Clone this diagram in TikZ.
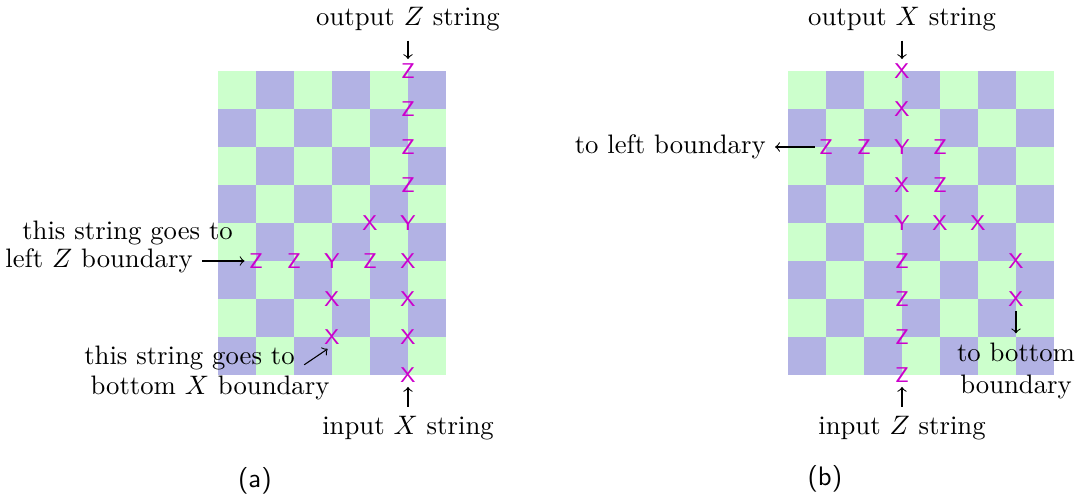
\documentclass[tikz,border=0pt]{standalone}
\usepackage{amsmath,amssymb}
\usepackage{tikz}
\definecolor{cellGreen}{RGB}{204,255,204}
\definecolor{cellBlue}{RGB}{178,178,228}
\definecolor{pauliMag}{RGB}{204,0,204}

\begin{document}
\begin{tikzpicture}[x=0.5cm,y=0.5cm,
  pauli/.style={text=pauliMag,font=\footnotesize\sffamily,inner sep=1.5pt},
  note/.style={font=\normalsize}]
  \useasboundingbox (-5.737,1.868) rectangle (22.71,-11.21);

  % (a) 6x8 board
  \foreach \i in {0,...,5}
    \foreach \j in {0,...,7} {
      \ifodd\numexpr\i+\j\relax\def\cellcol{cellBlue}\else\def\cellcol{cellGreen}\fi
      \fill[fill=\cellcol] (\i,-\j) rectangle (\i+1,-\j-1);
    }
  \foreach \r/\t in {0/Z,1/Z,2/Z,3/Z,4/Y,5/X,6/X,7/X,8/X}
    \node[pauli] (a5\r) at (5,-\r) {\t};
  \node[pauli] (a44) at (4,-4) {X};
  \node[pauli] (a15) at (1,-5) {Z};
  \node[pauli] (a25) at (2,-5) {Z};
  \node[pauli] (a35) at (3,-5) {Y};
  \node[pauli] (a45) at (4,-5) {Z};
  \node[pauli] (a36) at (3,-6) {X};
  \node[pauli] (a37) at (3,-7) {X};

  \node[note] (aout) at (5,1.36) {output $Z$ string};
  \draw[->] (aout) -- (a50);
  \node[note] (ain) at (5,-9.39) {input $X$ string};
  \draw[->] (ain) -- (a58);
  \node[note] (aleft1) at (-2.38,-4.26) {this string goes to};
  \node[note,anchor=east] (aleft2) at (-0.42,-5) {left $Z$ boundary};
  \draw[->] (aleft2) -- (a15);
  \node[note] (abot1) at (-0.75,-7.56) {this string goes to};
  \node[note] (abot2) at (-0.21,-8.35) {bottom $X$ boundary};
  \draw[->] (abot1.base east) -- (a37.-110);
  \node (acap) at (0.97,-10.79) {\sffamily (a)};

  % (b) 7x8 board
  \begin{scope}[shift={(15,0)}]
  \foreach \i in {0,...,6}
    \foreach \j in {0,...,7} {
      \ifodd\numexpr\i+\j\relax\def\cellcol{cellBlue}\else\def\cellcol{cellGreen}\fi
      \fill[fill=\cellcol] (\i,-\j) rectangle (\i+1,-\j-1);
    }
  \foreach \r/\t in {0/X,1/X,2/Y,3/X,4/Y,5/Z,6/Z,7/Z,8/Z}
    \node[pauli] (b3\r) at (3,-\r) {\t};
  \node[pauli] (b12) at (1,-2) {Z};
  \node[pauli] (b22) at (2,-2) {Z};
  \node[pauli] (b42) at (4,-2) {Z};
  \node[pauli] (b43) at (4,-3) {Z};
  \node[pauli] (b44) at (4,-4) {X};
  \node[pauli] (b54) at (5,-4) {X};
  \node[pauli] (b65) at (6,-5) {X};
  \node[pauli] (b66) at (6,-6) {X};

  \node[note] (bout) at (3,1.36) {output $X$ string};
  \draw[->] (bout) -- (b30);
  \node[note] (bin) at (3,-9.39) {input $Z$ string};
  \draw[->] (bin) -- (b38);
  \node[note,anchor=east] (bleft) at (-0.34,-2) {to left boundary};
  \draw[->] (b12) -- (bleft);
  \node[note,align=center] (bbot) at (6,-7.89) {to bottom\\boundary};
  \draw[->] (b66) -- (bbot);
  \node (bcap) at (0.97,-10.74) {\sffamily (b)};
  \end{scope}
\end{tikzpicture}
\end{document}
